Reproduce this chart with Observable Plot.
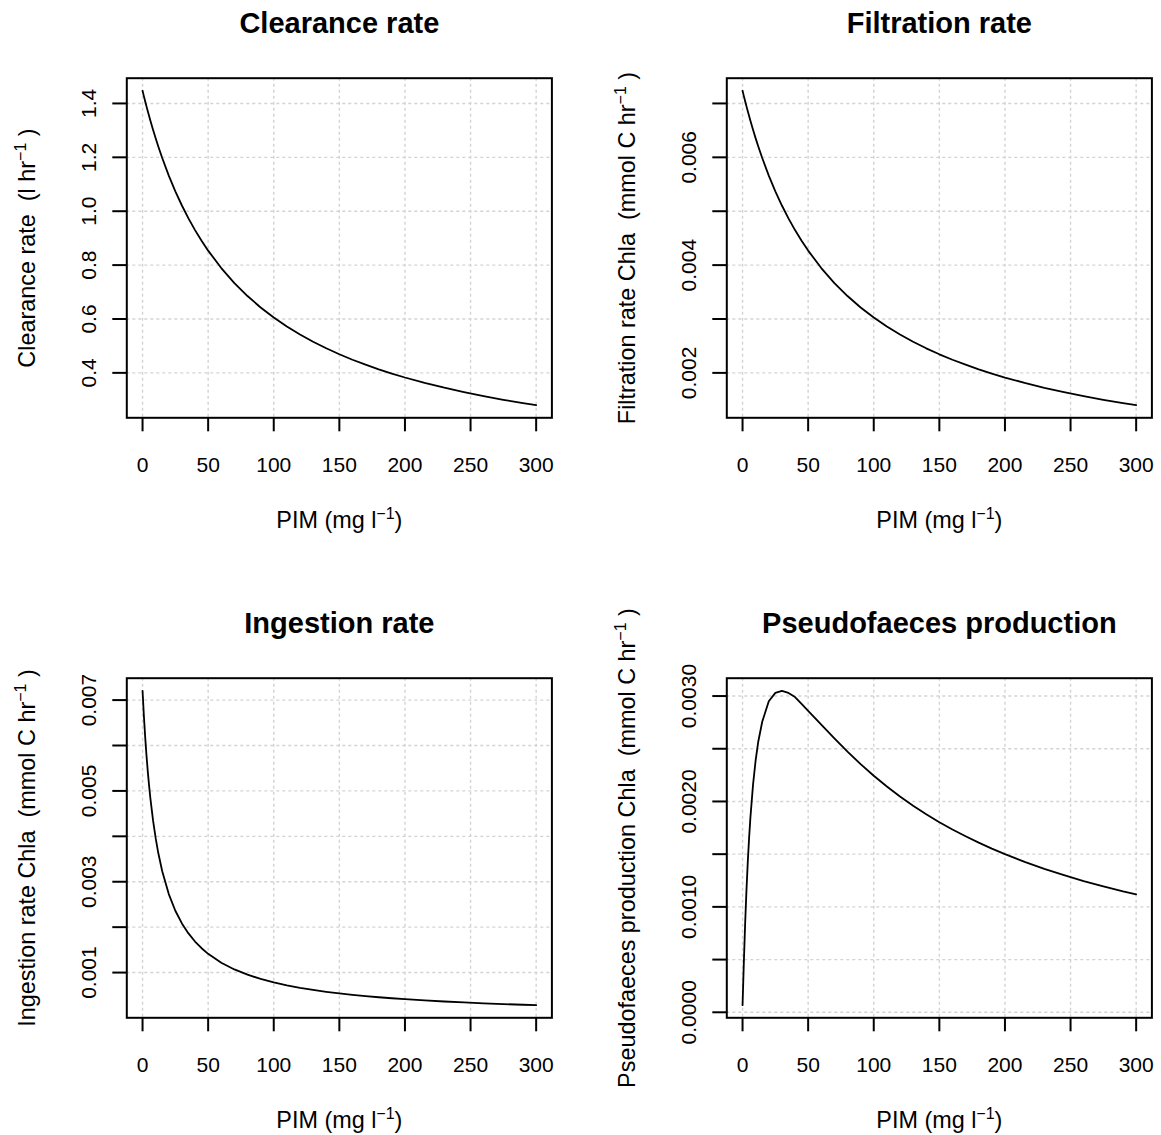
<!DOCTYPE html>
<html>
<head>
<meta charset="utf-8">
<script src="https://cdn.jsdelivr.net/npm/d3@7"></script>
<script src="https://cdn.jsdelivr.net/npm/@observablehq/plot@0.6"></script>
<style>
  html, body { margin: 0; padding: 0; background: white; overflow: hidden; }
  #fig { position: relative; width: 1161px; height: 1135px; overflow: hidden; background: white; }
  #fig svg { position: absolute; }
</style>
</head>
<body>
<div id="fig"></div>
<script>
// ---- data ----
const pim = [0,1,2,3,4,5,6,8,10,12,15,20,25,30,35,40,45,50,60,70,80,90,100,110,120,130,140,150,160,170,180,190,200,215,230,245,260,275,290,300];

const clearance = [1.4470,1.4272,1.4080,1.3891,1.3708,1.3530,1.3356,1.3022,1.2704,1.2402,1.1974,1.1322,1.0738,1.0212,0.9734,0.9299,0.8902,0.8537,0.7890,0.7334,0.6851,0.6428,0.6054,0.5722,0.5424,0.5155,0.4912,0.4690,0.4488,0.4303,0.4132,0.3974,0.3828,0.3628,0.3448,0.3285,0.3136,0.3001,0.2876,0.2799];

const filtration = [0.007235,0.007136,0.007040,0.006946,0.006854,0.006765,0.006678,0.006511,0.006352,0.006201,0.005987,0.005661,0.005369,0.005106,0.004867,0.004650,0.004451,0.004269,0.003945,0.003667,0.003426,0.003214,0.003027,0.002861,0.002712,0.002578,0.002456,0.002345,0.002244,0.002152,0.002066,0.001987,0.001914,0.001814,0.001724,0.001643,0.001568,0.001500,0.001438,0.001400];

const ingestion = [0.007205,0.006659,0.006190,0.005783,0.005425,0.005110,0.004829,0.004351,0.003959,0.003632,0.003231,0.002729,0.002362,0.002082,0.001862,0.001683,0.001536,0.001413,0.001217,0.001069,0.000953,0.000860,0.000783,0.000719,0.000665,0.000618,0.000577,0.000542,0.000510,0.000482,0.000457,0.000435,0.000414,0.000387,0.000363,0.000342,0.000323,0.000306,0.000291,0.000281];

const pseudofaeces = [0.000067,0.000477,0.000850,0.001163,0.001429,0.001655,0.001849,0.002160,0.002393,0.002569,0.002756,0.002950,0.003030,0.003050,0.003030,0.002990,0.002925,0.002860,0.002728,0.002598,0.002473,0.002354,0.002244,0.002142,0.002047,0.001960,0.001879,0.001803,0.001734,0.001670,0.001609,0.001552,0.001500,0.001427,0.001361,0.001301,0.001245,0.001194,0.001147,0.001119];

const xTicks = [0,50,100,150,200,250,300];

const titles = ["Clearance rate", "Filtration rate", "Ingestion rate", "Pseudofaeces production"];
const yLabels = ["Clearance rate  (l hr⁻¹ )", "Filtration rate Chla  (mmol C hr⁻¹ )", "Ingestion rate Chla  (mmol C hr⁻¹ )", "Pseudofaeces production Chla  (mmol C hr⁻¹ )"];
const xLabel = "PIM (mg l⁻¹)";

const ticksClearance = [0.4,0.6,0.8,1.0,1.2,1.4];
const labelsClearance = [0.4,0.6,0.8,1.0,1.2,1.4];
const ticksFiltration = [0.002,0.003,0.004,0.005,0.006,0.007];
const labelsFiltration = [0.002,0.004,0.006];
const ticksIngestion = [0.001,0.002,0.003,0.004,0.005,0.006,0.007];
const labelsIngestion = [0.001,0.003,0.005,0.007];
const ticksPseudo = [0,0.0005,0.001,0.0015,0.002,0.0025,0.003];
const labelsPseudo = [0,0.001,0.002,0.003];

// ---- layout ----
const BOX = {left: 126.3, right: 551.4, top: 77.7, bottom: 417.3};
const FONT = "'Liberation Sans', Arial, Helvetica, sans-serif";
const GRID = {stroke: "#d3d3d3", strokeOpacity: 1, strokeDasharray: "3,3", strokeWidth: 1.4};
const LAB = 23.4;

function panel(cfg) {
  const W = cfg.width, H = cfg.height;
  const ys = cfg.values;
  const ymin = d3.min(ys), ymax = d3.max(ys), r = ymax - ymin;
  const xmin = d3.min(pim), xmax = d3.max(pim), xr = xmax - xmin;
  const data = pim.map((x, i) => ({x, y: ys[i]}));
  const svg = Plot.plot({
    width: W,
    height: H,
    marginLeft: BOX.left,
    marginRight: W - BOX.right,
    marginTop: BOX.top,
    marginBottom: H - BOX.bottom,
    x: {domain: [xmin - 0.04 * xr, xmax + 0.04 * xr]},
    y: {domain: [ymin - 0.04 * r, ymax + 0.04 * r]},
    style: {fontFamily: FONT, fontSize: "21px", background: "white", color: "black", overflow: "visible"},
    marks: [
      Plot.gridX(xTicks, GRID),
      Plot.gridY(cfg.ticks, GRID),
      Plot.line(data, {x: "x", y: "y", stroke: "black", strokeWidth: 1.8}),
      Plot.frame({stroke: "black", strokeWidth: 2}),
      Plot.axisX({ticks: xTicks, tickSize: 14, tickPadding: 25, fontSize: 21, strokeWidth: 2, label: null, tickFormat: d => String(d)}),
      Plot.axisY({ticks: cfg.ticks, tickSize: 14, tickFormat: () => "", label: null, strokeWidth: 2}),
      Plot.text(cfg.labels, {y: d => d, frameAnchor: "left", dx: -38, rotate: -90, textAnchor: "middle", lineAnchor: "middle", text: cfg.fmt, fontSize: 21, fill: "black"}),
      Plot.text([cfg.title], {text: d => d, frameAnchor: "top", dy: -54.7, textAnchor: "middle", lineAnchor: "middle", fontWeight: "bold", fontSize: 29, fill: "black"}),
      Plot.text([cfg.ylabel], {text: d => d, frameAnchor: "left", dx: -99, rotate: -90, textAnchor: "middle", lineAnchor: "middle", fontSize: LAB, fill: "black"}),
      Plot.text([xLabel], {text: d => d, frameAnchor: "bottom", dy: 102.7, textAnchor: "middle", lineAnchor: "middle", fontSize: LAB, fill: "black"})
    ]
  });
  // render the "⁻¹" as a real superscript
  svg.querySelectorAll("text").forEach(t => {
    const s = t.textContent;
    if (s.includes("⁻¹")) {
      const [a, b] = s.split("⁻¹");
      t.textContent = "";
      const NS = "http://www.w3.org/2000/svg";
      const t1 = document.createElementNS(NS, "tspan"); t1.textContent = a;
      const t2 = document.createElementNS(NS, "tspan"); t2.textContent = "−1";
      t2.setAttribute("font-size", "16px"); t2.setAttribute("dy", "-9");
      const t3 = document.createElementNS(NS, "tspan"); t3.textContent = b;
      t3.setAttribute("dy", "9");
      t.appendChild(t1); t.appendChild(t2); t.appendChild(t3);
    }
  });
  svg.style.left = cfg.left + "px";
  svg.style.top = cfg.top + "px";
  return svg;
}

const fig = document.getElementById("fig");
const f1 = d3.format(".1f"), f3 = d3.format(".3f"), f4 = d3.format(".4f");
fig.appendChild(panel({title: titles[0], ylabel: yLabels[0], values: clearance, ticks: ticksClearance, labels: labelsClearance, fmt: d => f1(d), left: 0, top: 0, width: 600, height: 600}));
fig.appendChild(panel({title: titles[1], ylabel: yLabels[1], values: filtration, ticks: ticksFiltration, labels: labelsFiltration, fmt: d => f3(d), left: 600, top: 0, width: 561, height: 600}));
fig.appendChild(panel({title: titles[2], ylabel: yLabels[2], values: ingestion, ticks: ticksIngestion, labels: labelsIngestion, fmt: d => f3(d), left: 0, top: 600, width: 600, height: 535}));
fig.appendChild(panel({title: titles[3], ylabel: yLabels[3], values: pseudofaeces, ticks: ticksPseudo, labels: labelsPseudo, fmt: d => f4(d), left: 600, top: 600, width: 561, height: 535}));
</script>
</body>
</html>
